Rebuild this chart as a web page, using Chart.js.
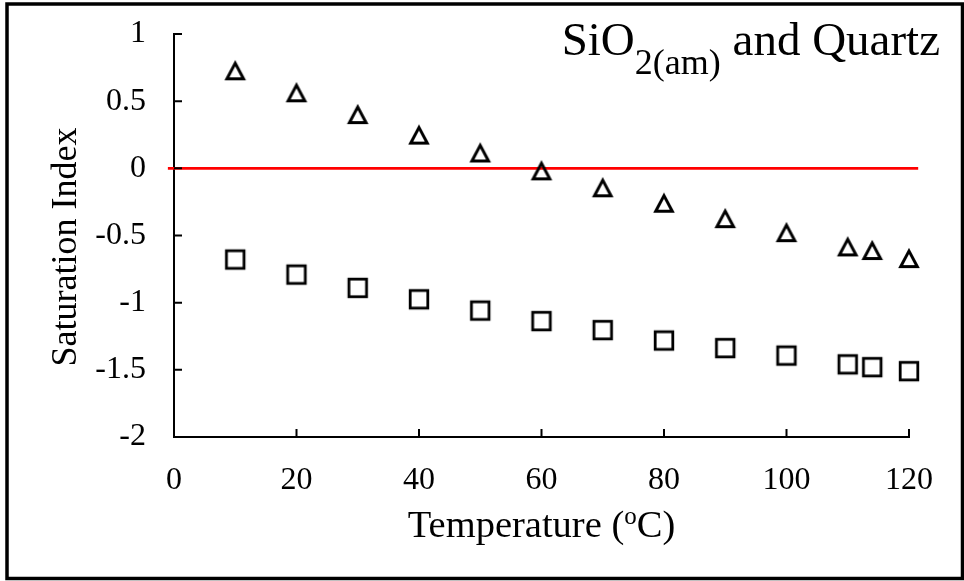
<!DOCTYPE html>
<html><head><meta charset="utf-8">
<script src="https://cdn.jsdelivr.net/npm/chart.js@4.4.0/dist/chart.umd.min.js"></script>
<style>html,body{margin:0;padding:0;background:#fff;} canvas{display:block;}</style>
</head><body>
<canvas id="c" width="964" height="581"></canvas>
<script>
// ---- data ----
const temperatures = [10, 20, 30, 40, 50, 60, 70, 80, 90, 100, 110, 114, 120];
const siAmorphous = [0.73, 0.566, 0.404, 0.251, 0.118, -0.015, -0.141, -0.256, -0.371, -0.475, -0.581, -0.608, -0.668];
const siQuartz = [-0.679, -0.791, -0.890, -0.975, -1.059, -1.137, -1.204, -1.282, -1.338, -1.394, -1.459, -1.480, -1.510];
const refLineX = [-1, 121.5];
const refLineY = [0, 0];
const xTickValues = [0, 20, 40, 60, 80, 100, 120];
const xTickLabels = ['0', '20', '40', '60', '80', '100', '120'];
const yTickValues = [1, 0.5, 0, -0.5, -1, -1.5, -2];
const yTickLabels = ['1', '0.5', '0', '-0.5', '-1', '-1.5', '-2'];
const titleMain = 'SiO';
const titleSub = '2(am)';
const titleRest = ' and Quartz';
const xTitleA = 'Temperature (';
const xTitleSup = 'o';
const xTitleB = 'C)';
const yTitle = 'Saturation Index';

const FONT = '"Liberation Serif", "Times New Roman", serif';

function toPoints(xs, ys) { return xs.map((x, i) => ({x: x, y: ys[i]})); }

function triangleMarker() {
  const c = document.createElement('canvas'); c.width = 30; c.height = 30;
  const g = c.getContext('2d');
  g.strokeStyle = '#000'; g.lineWidth = 3; g.lineJoin = 'miter';
  const w = 16.6, h = 15.6, cx = 15, cy = 15.7;
  g.beginPath();
  g.moveTo(cx, cy - h / 2);
  g.lineTo(cx + w / 2, cy + h / 2);
  g.lineTo(cx - w / 2, cy + h / 2);
  g.closePath(); g.stroke();
  return c;
}
function squareMarker() {
  const c = document.createElement('canvas'); c.width = 26; c.height = 26;
  const g = c.getContext('2d');
  g.strokeStyle = '#000'; g.lineWidth = 2.8;
  const s = 17.6;
  g.strokeRect(13 - s / 2, 13 - s / 2, s, s);
  return c;
}

const TICK_LEN = 8;
const decor = {
  id: 'decor',
  afterDraw(chart) {
    const ctx = chart.ctx, a = chart.chartArea;
    const xs = chart.scales.x, ys = chart.scales.y;
    ctx.save();
    // inward tick marks
    ctx.strokeStyle = '#000'; ctx.lineWidth = 2;
    ctx.beginPath();
    yTickValues.forEach(v => { const p = ys.getPixelForValue(v); ctx.moveTo(a.left, p); ctx.lineTo(a.left + TICK_LEN, p); });
    xTickValues.forEach(v => { const p = xs.getPixelForValue(v); ctx.moveTo(p, a.bottom); ctx.lineTo(p, a.bottom - TICK_LEN); });
    ctx.stroke();
    // frame
    ctx.lineWidth = 3.5;
    ctx.strokeRect(7, 4, 955.5, 574.5);
    // title
    ctx.fillStyle = '#000';
    ctx.textBaseline = 'alphabetic'; ctx.textAlign = 'left';
    const mainF = '47px ' + FONT, subF = '36px ' + FONT;
    ctx.font = mainF; const w1 = ctx.measureText(titleMain).width, w3 = ctx.measureText(titleRest).width;
    ctx.font = subF; const w2 = ctx.measureText(titleSub).width;
    let x0 = 940 - (w1 + w2 + w3);
    const by = 55;
    ctx.font = mainF; ctx.fillText(titleMain, x0, by);
    ctx.font = subF; ctx.fillText(titleSub, x0 + w1, by + 19);
    ctx.font = mainF; ctx.fillText(titleRest, x0 + w1 + w2, by);
    // x title
    const xF = '38.5px ' + FONT, supF = '25px ' + FONT;
    ctx.font = xF; const a1 = ctx.measureText(xTitleA).width, a3 = ctx.measureText(xTitleB).width;
    ctx.font = supF; const a2 = ctx.measureText(xTitleSup).width;
    const cx = (a.left + a.right) / 2;
    let sx = cx - (a1 + a2 + a3) / 2;
    const xb = 537;
    ctx.font = xF; ctx.fillText(xTitleA, sx, xb);
    ctx.font = supF; ctx.fillText(xTitleSup, sx + a1, xb - 13);
    ctx.font = xF; ctx.fillText(xTitleB, sx + a1 + a2, xb);
    // y title
    ctx.translate(76, 247); ctx.rotate(-Math.PI / 2);
    ctx.textAlign = 'center'; ctx.font = '36px ' + FONT;
    ctx.fillText(yTitle, 0, 0);
    ctx.restore();
  }
};

new Chart(document.getElementById('c'), {
  type: 'scatter',
  data: {
    datasets: [
      { label: 'ref', type: 'line', data: toPoints(refLineX, refLineY), borderColor: '#FF0000', borderWidth: 2.6,
        pointRadius: 0, showLine: true, clip: false, order: 10, fill: false },
      { label: 'SiO2(am)', data: toPoints(temperatures, siAmorphous), pointStyle: triangleMarker(), pointRadius: 12, clip: false, order: 1 },
      { label: 'Quartz', data: toPoints(temperatures, siQuartz), pointStyle: squareMarker(), pointRadius: 12, clip: false, order: 2 }
    ]
  },
  options: {
    responsive: false, animation: false, devicePixelRatio: 1,
    layout: { padding: { left: 0, top: 34, right: 55, bottom: 0 } },
    plugins: { legend: { display: false }, tooltip: { enabled: false }, title: { display: false } },
    scales: {
      x: {
        type: 'linear', min: 0, max: 120,
        afterBuildTicks: s => { s.ticks = xTickValues.map(v => ({value: v})); },
        afterFit: s => { s.height = 144; s.paddingLeft = 0; s.paddingRight = 0; },
        grid: { display: true, drawOnChartArea: false, drawTicks: false },
        border: { display: true, color: '#000', width: 2 },
        ticks: { padding: 24, color: '#000', font: { family: FONT, size: 32 },
          callback: (v) => xTickLabels[xTickValues.indexOf(v)] }
      },
      y: {
        type: 'linear', min: -2, max: 1,
        afterBuildTicks: s => { s.ticks = yTickValues.map(v => ({value: v})); },
        afterFit: s => { s.width = 174; s.paddingTop = 0; s.paddingBottom = 0; },
        grid: { display: true, drawOnChartArea: false, drawTicks: false },
        border: { display: true, color: '#000', width: 2 },
        ticks: { padding: 28, color: '#000', font: { family: FONT, size: 32 },
          callback: (v) => yTickLabels[yTickValues.indexOf(v)] }
      }
    }
  },
  plugins: [decor]
});
</script>
</body></html>
